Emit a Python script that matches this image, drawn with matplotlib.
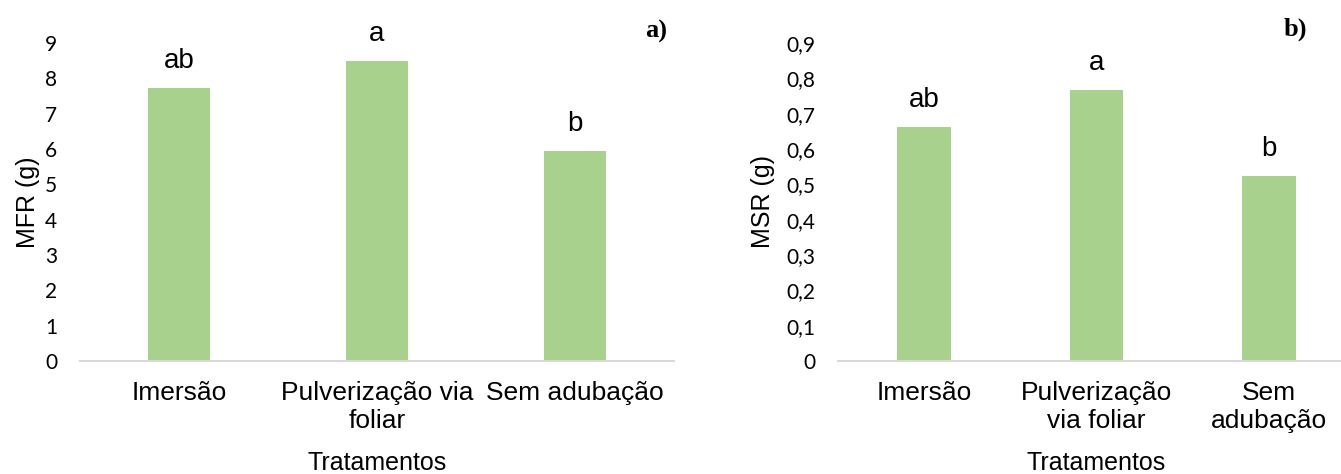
import matplotlib
matplotlib.use("Agg")
import matplotlib.pyplot as plt

# ---------------------------------------------------------------------------
# Data

mfr_categories = ["Imersão", "Pulverização via\nfoliar", "Sem adubação"]
mfr_values = [7.73, 8.48, 5.93]
mfr_letters = ["ab", "a", "b"]
mfr_ticks = [0, 1, 2, 3, 4, 5, 6, 7, 8, 9]
mfr_ticklabels = ["0", "1", "2", "3", "4", "5", "6", "7", "8", "9"]

msr_categories = ["Imersão", "Pulverização\nvia foliar", "Sem\nadubação"]
msr_values = [0.662, 0.767, 0.524]
msr_letters = ["ab", "a", "b"]
msr_ticks = [0, 0.1, 0.2, 0.3, 0.4, 0.5, 0.6, 0.7, 0.8, 0.9]
msr_ticklabels = ["0", "0,1", "0,2", "0,3", "0,4", "0,5", "0,6", "0,7", "0,8", "0,9"]

# ---------------------------------------------------------------------------
# Styles

green = "#A9D18E"
grey = "#D9D9D9"
tickfont = ["Lato", "Liberation Sans", "DejaVu Sans"]
regular = ["Liberation Sans", "DejaVu Sans"]
serif = ["Liberation Serif", "DejaVu Serif"]

fig = plt.figure(figsize=(13.41, 4.74), dpi=100)
ax1 = fig.add_axes([80 / 1341, 113 / 474, 594 / 1341, 318 / 474])
ax2 = fig.add_axes([838 / 1341, 113 / 474, 517 / 1341, 318 / 474])


def draw_panel(ax, cats, vals, letters, ticks, ticklabels, ylabel, ylab_x,
               tag, tag_x, tag_y):
    xs = range(len(cats))
    ax.bar(xs, vals, width=0.31, color=green)
    for x, v, s in zip(xs, vals, letters):
        ax.annotate(s, (x, v), xytext=(0, 14.5), textcoords="offset points",
                    ha="center", va="baseline", fontsize=20, family=regular)
    ax.set_xlim(-0.5, len(cats) - 0.5)
    ax.set_ylim(ticks[0], ticks[-1])
    ax.set_yticks(ticks)
    ax.set_yticklabels(ticklabels, family=tickfont, fontsize=15)
    ax.set_xticks(list(xs))
    ax.set_xticklabels(cats, family=regular, fontsize=19, linespacing=1.2)
    ax.tick_params(length=0)
    ax.tick_params(axis="y", pad=16.5)
    ax.tick_params(axis="x", pad=14.5)
    for side in ["top", "right", "left"]:
        ax.spines[side].set_visible(False)
    ax.spines["bottom"].set_color(grey)
    ax.spines["bottom"].set_linewidth(1.5)
    ax.set_ylabel(ylabel, family=regular, fontsize=18, va="center")
    ax.yaxis.set_label_coords(ylab_x, 0.5)
    ax.set_xlabel("Tratamentos", family=regular, fontsize=18, va="baseline")
    ax.xaxis.set_label_coords(0.5, -109 / 318)
    ax.text(tag_x, tag_y, tag, transform=ax.transAxes, ha="right",
            va="baseline", fontsize=19, fontweight="bold", family=serif)


draw_panel(ax1, mfr_categories, mfr_values, mfr_letters, mfr_ticks,
           mfr_ticklabels, "MFR (g)", -0.088, "a)", 0.988, 1.016)
draw_panel(ax2, msr_categories, msr_values, msr_letters, msr_ticks,
           msr_ticklabels, "MSR (g)", -0.145, "b)", 0.907, 1.022)

fig.savefig("out.png", dpi=100)
